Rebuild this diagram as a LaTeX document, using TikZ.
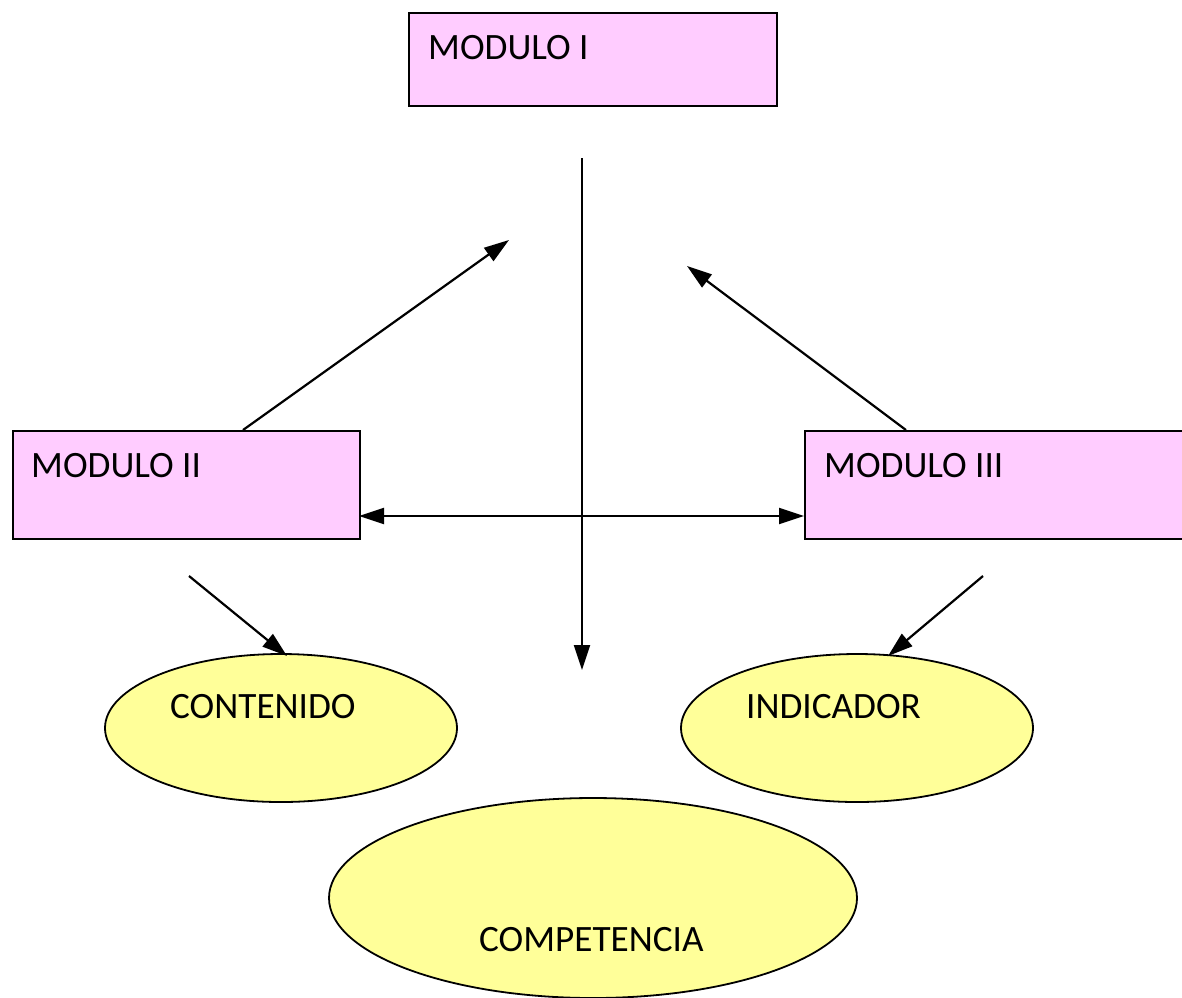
\documentclass[tikz,border=0pt]{standalone}
\usepackage{fontspec}
\setmainfont{Carlito}
\usetikzlibrary{arrows.meta,shapes.geometric}
\definecolor{boxpink}{HTML}{FFCCFF}
\definecolor{ellyellow}{HTML}{FFFF99}
\begin{document}
\begin{tikzpicture}[x=1pt,y=-1pt,
  modbox/.style={draw=black,line width=1.8pt,fill=boxpink,rectangle,inner sep=0pt,anchor=north west},
  ovalnode/.style={draw=black,line width=1.8pt,fill=ellyellow,ellipse,inner sep=0pt},
  lbl/.style={anchor=base west,inner sep=0pt,font=\fontsize{37.2}{44}\selectfont},
  conn/.style={line width=2.2pt,-{Triangle[length=25pt,width=16pt]}},
  dconn/.style={line width=2.2pt,{Triangle[length=25pt,width=16pt]}-{Triangle[length=25pt,width=16pt]}}]
\useasboundingbox (0,0) rectangle (1182,997);
% boxes
\node[modbox,minimum width=368pt,minimum height=93pt] (m1) at (408,12) {};
\node[modbox,minimum width=347pt,minimum height=108pt] (m2) at (12,430) {};
\node[modbox,minimum width=390pt,minimum height=108pt] (m3) at (804,430) {};
\node[lbl] (t1) at (428,59) {MODULO I};
\node[lbl] (t2) at (31,477) {MODULO II};
\node[lbl] (t3) at (824,477) {MODULO III};
% ellipses
\node[ovalnode,minimum width=352pt,minimum height=148pt] (cont) at (281,728) {};
\node[ovalnode,minimum width=352pt,minimum height=148pt] (ind) at (857,728) {};
\node[ovalnode,minimum width=528pt,minimum height=200pt] (comp) at (593,898) {};
\node[lbl] (tc) at (170,718) {CONTENIDO};
\node[lbl] (ti) at (746,718) {INDICADOR};
\node[lbl] (tp) at (479,951) {COMPETENCIA};
% connector ends
\coordinate (vtop) at (582,158);
\coordinate (vbot) at (582,670);
\coordinate (m2top) at (243,430);
\coordinate (m3top) at (906,430);
\coordinate (lend) at (509,240);
\coordinate (rend) at (687,266);
\coordinate (lstart) at (189,576);
\coordinate (rstart) at (983,576);
\coordinate (conttop) at (287,656);
\coordinate (indtop) at (888,656);
\coordinate (hl) at (359,516);
\coordinate (hr) at (804,516);
% connectors
\draw[conn] (vtop) -- (vbot);
\draw[conn] (m2top) -- (lend);
\draw[conn] (m3top) -- (rend);
\draw[dconn] (hl) -- (hr);
\draw[conn] (lstart) -- (conttop);
\draw[conn] (rstart) -- (indtop);
\end{tikzpicture}
\end{document}
